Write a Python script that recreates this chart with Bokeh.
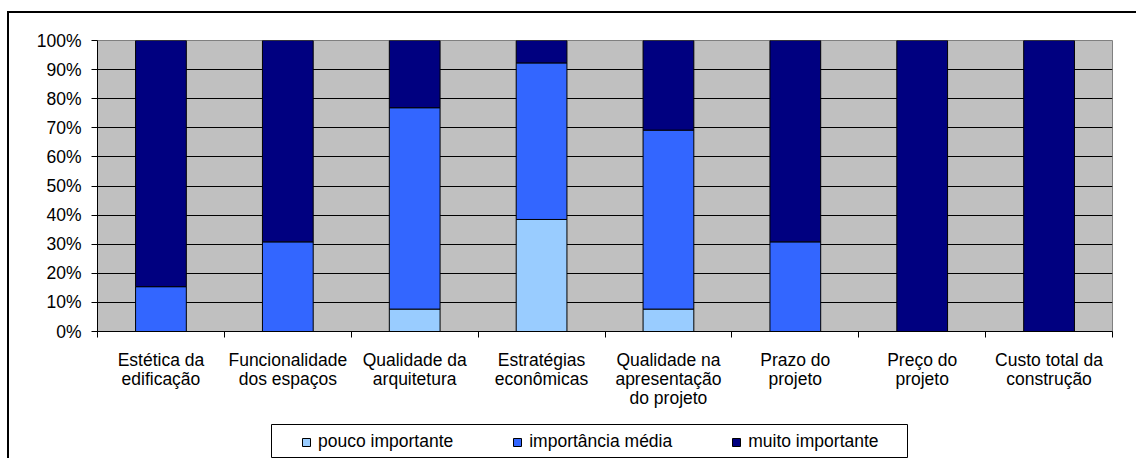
from bokeh.plotting import figure
from bokeh.layouts import column
from bokeh.models import Range1d, FixedTicker, ColumnDataSource, Legend, LegendItem
from bokeh.embed import file_html
from bokeh.resources import INLINE

# Survey results: share of answers per importance level, per criterion (%)
categories = [
    "Estética da\nedificação",
    "Funcionalidade\ndos espaços",
    "Qualidade da\narquitetura",
    "Estratégias\neconômicas",
    "Qualidade na\napresentação\ndo projeto",
    "Prazo do\nprojeto",
    "Preço do\nprojeto",
    "Custo total da\nconstrução",
]
pouco_importante = [0.0, 0.0, 7.7, 38.5, 7.7, 0.0, 0.0, 0.0]
importancia_media = [15.4, 30.8, 69.2, 53.8, 61.5, 30.8, 0.0, 0.0]
muito_importante = [84.6, 69.2, 23.1, 7.7, 30.8, 69.2, 100.0, 100.0]

series_names = ["pouco importante", "importância média", "muito importante"]
series_keys = ["pouco", "media", "muito"]
series_colors = ["#99CCFF", "#3366FF", "#000080"]

y_ticks = [0, 10, 20, 30, 40, 50, 60, 70, 80, 90, 100]
y_tick_labels = ["0%", "10%", "20%", "30%", "40%", "50%", "60%", "70%", "80%", "90%", "100%"]

FONT = "Liberation Sans"
FONT_SIZE = "17.5px"
BORDER_L, BORDER_R = 88, 24

n = len(categories)
centers = [i + 0.5 for i in range(n)]
bounds = [float(i) for i in range(n + 1)]

source = ColumnDataSource(dict(
    x=centers,
    pouco=pouco_importante,
    media=importancia_media,
    muito=muito_importante,
))

# ---- main chart -------------------------------------------------------
p = figure(
    width=1127, height=411,
    x_range=Range1d(0, n), y_range=Range1d(0, 100),
    output_backend="svg", toolbar_location=None,
    min_border_left=BORDER_L, min_border_right=BORDER_R,
    min_border_top=27, min_border_bottom=93,
)
p.background_fill_color = "#C0C0C0"
p.border_fill_color = "white"
p.outline_line_color = "#808080"
p.outline_line_width = 1

p.vbar_stack(
    series_keys, x="x", width=0.4, source=source,
    fill_color=series_colors, line_color="black", line_width=1,
)

p.xgrid.visible = False
p.ygrid.grid_line_color = "black"
p.ygrid.grid_line_width = 1
p.ygrid.ticker = FixedTicker(ticks=y_ticks)

ya = p.yaxis[0]
ya.ticker = FixedTicker(ticks=y_ticks)
ya.major_label_overrides = dict(zip(y_ticks, y_tick_labels))
ya.axis_line_color = "black"
ya.major_tick_line_color = "black"
ya.major_tick_in = 0
ya.major_tick_out = 6
ya.minor_tick_line_color = None
ya.major_label_standoff = 10
ya.major_label_text_font = FONT
ya.major_label_text_font_size = FONT_SIZE
ya.major_label_text_color = "black"

# labels at bar centres, tick marks at category boundaries
xa = p.xaxis[0]
xa.ticker = FixedTicker(ticks=centers, minor_ticks=bounds)
xa.major_label_overrides = dict(zip(centers, categories))
xa.axis_line_color = "black"
xa.major_tick_in = 0
xa.major_tick_out = 0
xa.minor_tick_in = 0
xa.minor_tick_out = 6
xa.minor_tick_line_color = "black"
xa.minor_tick_line_width = 1
xa.major_label_standoff = 12
xa.major_label_text_font = FONT
xa.major_label_text_font_size = FONT_SIZE
xa.major_label_text_line_height = 0.95
xa.major_label_text_color = "black"
xa.major_label_text_align = "center"

# ---- legend strip (its frame outline is the legend box) ---------------
leg = figure(
    width=636 + BORDER_L + BORDER_R, height=34,
    x_range=Range1d(0, 1), y_range=Range1d(0, 1),
    output_backend="svg", toolbar_location=None,
    x_axis_type=None, y_axis_type=None,
    min_border_left=BORDER_L, min_border_right=BORDER_R,
    min_border_top=0, min_border_bottom=0,
    styles={"margin-left": "174px"},
)
leg.grid.visible = False
leg.background_fill_color = "white"
leg.border_fill_color = "white"
leg.outline_line_color = "black"
leg.outline_line_width = 1

nan = float("nan")
items = []
for name, color in zip(series_names, series_colors):
    r = leg.vbar(x=[nan], top=[nan], width=0.1, fill_color=color, line_color="black", line_width=1)
    items.append(LegendItem(label=name, renderers=[r]))

lg = Legend(
    items=items, orientation="horizontal", location=(30, 6),
    padding=0, margin=0, spacing=59, label_standoff=7,
    glyph_width=10, glyph_height=10, label_height=20,
    label_text_font=FONT, label_text_font_size=FONT_SIZE, label_text_color="black",
    border_line_alpha=0, background_fill_alpha=0,
)
leg.add_layout(lg, "center")

root = column(
    p, leg,
    styles={
        "margin-left": "7px", "margin-top": "11px",
        "border-left": "2px solid black", "border-top": "2px solid black",
    },
)

open("out.html", "w").write(file_html(root, INLINE))
